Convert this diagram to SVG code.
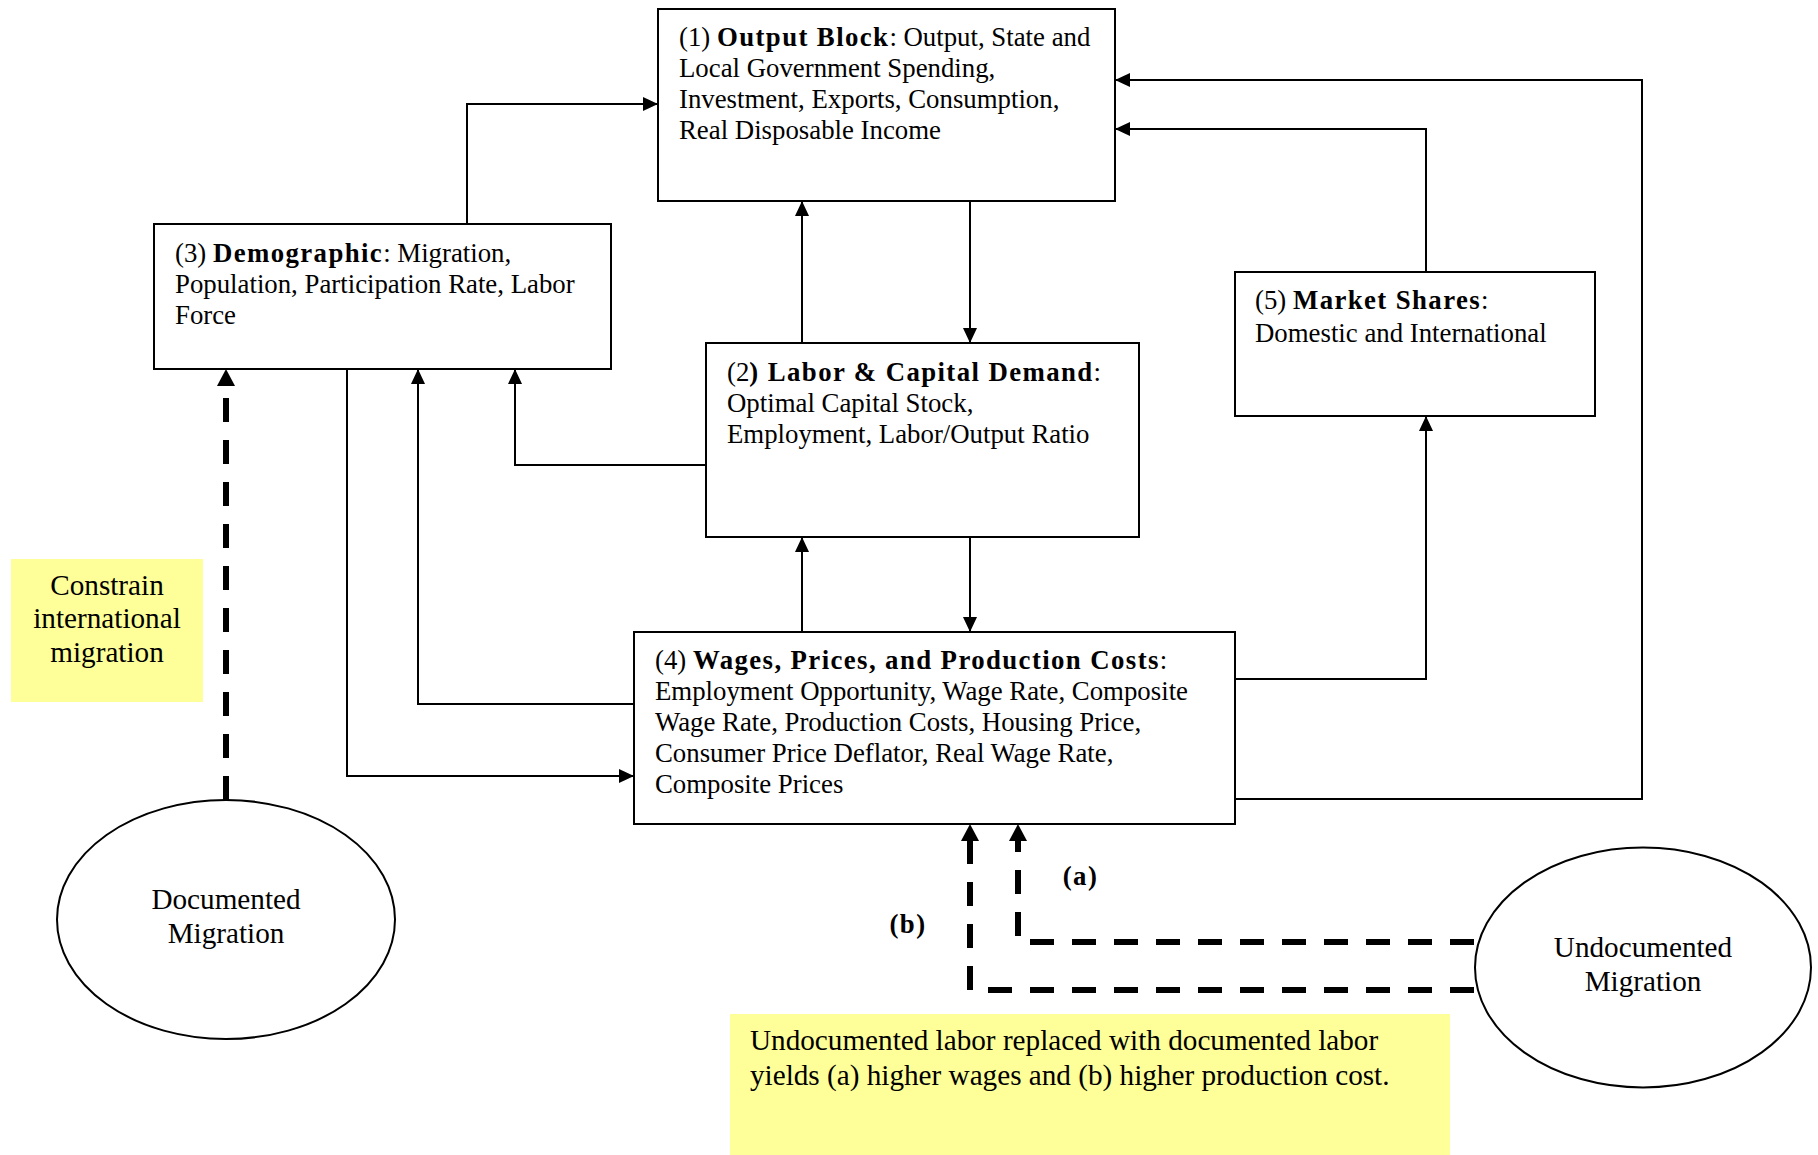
<svg xmlns="http://www.w3.org/2000/svg" width="1818" height="1155" viewBox="0 0 1818 1155">
<style>
  .box { fill: #ffffff; stroke: #000000; stroke-width: 2; }
  .ell { fill: #ffffff; stroke: #000000; stroke-width: 2; }
  .note { fill: #FFFF99; stroke: none; }
  .t { font-family: "Liberation Serif", "Times New Roman", serif; font-size: 26.8px; fill: #000000; }
  .tl { font-family: "Liberation Serif", "Times New Roman", serif; font-size: 29.2px; fill: #000000; }
  .b { font-weight: bold; letter-spacing: 1.4px; }
  .conn { fill: none; stroke: #000000; stroke-width: 2; marker-end: url(#arr); }
  .dash { fill: none; stroke: #000000; stroke-width: 6; stroke-dasharray: 24 18; marker-end: url(#arrd); }
</style>
<defs>
  <marker id="arr" markerUnits="userSpaceOnUse" markerWidth="16" markerHeight="14" refX="15" refY="7" orient="auto">
    <path d="M0,0 L15,7 L0,14 z" fill="#000000"/>
  </marker>
  <marker id="arrd" markerUnits="userSpaceOnUse" markerWidth="18" markerHeight="18" refX="0" refY="9" orient="auto">
    <path d="M0,0 L17,9 L0,18 z" fill="#000000"/>
  </marker>
</defs>
<rect width="1818" height="1155" fill="#ffffff"/>

<g id="connectors">
  <path class="conn" d="M467,224 V104 H658"/>
  <path class="conn" d="M802,343 V201"/>
  <path class="conn" d="M970,201 V343"/>
  <path class="conn" d="M706,465 H515 V369"/>
  <path class="conn" d="M634,704 H418 V369"/>
  <path class="conn" d="M347,369 V776 H634"/>
  <path class="conn" d="M802,632 V537"/>
  <path class="conn" d="M970,537 V632"/>
  <path class="conn" d="M1235,679 H1426 V416"/>
  <path class="conn" d="M1426,272 V129 H1115"/>
  <path class="conn" d="M1235,799 H1642 V80 H1115"/>
  <path class="dash" d="M226,800 V386"/>
  <path class="dash" d="M1474,990 H970 V841"/>
  <path class="dash" d="M1474,942 H1018 V841"/>
</g>

<g id="node1">
  <rect class="box" x="658" y="9" width="457" height="192"/>
  <text class="t" x="679" y="46">(1) <tspan class="b">Output Block</tspan>: Output, State and</text>
  <text class="t" x="679" y="77">Local Government Spending,</text>
  <text class="t" x="679" y="108">Investment, Exports, Consumption,</text>
  <text class="t" x="679" y="139">Real Disposable Income</text>
</g>

<g id="node3">
  <rect class="box" x="154" y="224" width="457" height="145"/>
  <text class="t" x="175" y="262">(3) <tspan class="b">Demographic</tspan>: Migration,</text>
  <text class="t" x="175" y="293">Population, Participation Rate, Labor</text>
  <text class="t" x="175" y="324">Force</text>
</g>

<g id="node2">
  <rect class="box" x="706" y="343" width="433" height="194"/>
  <text class="t" x="727" y="381">(2<tspan class="b">) Labor &amp; Capital Demand</tspan>:</text>
  <text class="t" x="727" y="412">Optimal Capital Stock,</text>
  <text class="t" x="727" y="443">Employment, Labor/Output Ratio</text>
</g>

<g id="node5">
  <rect class="box" x="1235" y="272" width="360" height="144"/>
  <text class="t" x="1255" y="309">(5) <tspan class="b">Market Shares</tspan>:</text>
  <text class="t" x="1255" y="342">Domestic and International</text>
</g>

<g id="node4">
  <rect class="box" x="634" y="632" width="601" height="192"/>
  <text class="t" x="655" y="669">(4) <tspan class="b">Wages, Prices, and Production Costs</tspan>:</text>
  <text class="t" x="655" y="700">Employment Opportunity, Wage Rate, Composite</text>
  <text class="t" x="655" y="731">Wage Rate, Production Costs, Housing Price,</text>
  <text class="t" x="655" y="762">Consumer Price Deflator, Real Wage Rate,</text>
  <text class="t" x="655" y="793">Composite Prices</text>
</g>

<g id="note-constrain">
  <rect class="note" x="11" y="559" width="192" height="143"/>
  <text class="tl" x="107" y="595" text-anchor="middle">Constrain</text>
  <text class="tl" x="107" y="628" text-anchor="middle">international</text>
  <text class="tl" x="107" y="662" text-anchor="middle">migration</text>
</g>

<g id="documented">
  <ellipse class="ell" cx="226" cy="919.5" rx="169" ry="119.5"/>
  <text class="tl" x="226" y="909" text-anchor="middle">Documented</text>
  <text class="tl" x="226" y="943" text-anchor="middle">Migration</text>
</g>

<g id="undocumented">
  <ellipse class="ell" cx="1643" cy="967.5" rx="168" ry="120"/>
  <text class="tl" x="1643" y="957" text-anchor="middle">Undocumented</text>
  <text class="tl" x="1643" y="991" text-anchor="middle">Migration</text>
</g>

<g id="note-undocumented">
  <rect class="note" x="730" y="1014" width="720" height="141"/>
  <text class="tl" x="750" y="1050">Undocumented labor replaced with documented labor</text>
  <text class="tl" x="750" y="1085">yields (a) higher wages and (b) higher production cost.</text>
</g>

<g id="labels">
  <text class="t b" x="1080.5" y="884.5" text-anchor="middle">(a)</text>
  <text class="t b" x="908" y="932.5" text-anchor="middle">(b)</text>
</g>
</svg>
